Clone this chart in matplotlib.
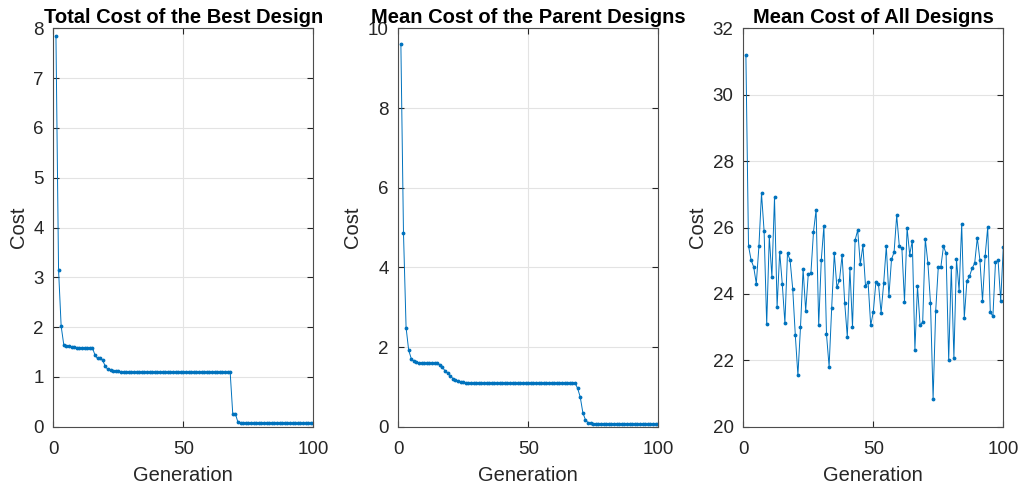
import matplotlib
matplotlib.use("Agg")
import matplotlib.pyplot as plt

plt.rcParams['font.family'] = ['Liberation Sans', 'DejaVu Sans']

generations = list(range(1, 101))

best_cost = [
    7.85, 3.15, 2.02, 1.65, 1.63, 1.62, 1.61, 1.61, 1.59, 1.59,
    1.59, 1.59, 1.59, 1.59, 1.59, 1.44, 1.37, 1.37, 1.33, 1.21,
    1.15, 1.13, 1.12, 1.12, 1.11, 1.10, 1.10, 1.10, 1.10, 1.10,
    1.10, 1.10, 1.10, 1.10, 1.10, 1.10, 1.10, 1.10, 1.10, 1.10,
    1.10, 1.10, 1.10, 1.10, 1.10, 1.10, 1.10, 1.10, 1.10, 1.10,
    1.10, 1.10, 1.10, 1.10, 1.10, 1.10, 1.10, 1.10, 1.10, 1.10,
    1.10, 1.10, 1.10, 1.10, 1.10, 1.10, 1.10, 1.10, 0.26, 0.26,
    0.09, 0.08, 0.08, 0.08, 0.08, 0.08, 0.08, 0.08, 0.08, 0.08,
    0.08, 0.08, 0.08, 0.08, 0.08, 0.08, 0.08, 0.08, 0.08, 0.08,
    0.07, 0.07, 0.07, 0.07, 0.07, 0.07, 0.07, 0.07, 0.07, 0.07,
]

parent_cost = [
    9.61, 4.87, 2.49, 1.92, 1.71, 1.64, 1.62, 1.61, 1.60, 1.59,
    1.59, 1.59, 1.59, 1.59, 1.59, 1.56, 1.49, 1.40, 1.34, 1.28,
    1.21, 1.17, 1.14, 1.12, 1.11, 1.10, 1.10, 1.10, 1.10, 1.10,
    1.10, 1.10, 1.10, 1.10, 1.10, 1.10, 1.10, 1.10, 1.10, 1.10,
    1.10, 1.10, 1.10, 1.10, 1.10, 1.10, 1.10, 1.10, 1.10, 1.10,
    1.10, 1.10, 1.10, 1.10, 1.10, 1.10, 1.10, 1.10, 1.10, 1.10,
    1.10, 1.10, 1.10, 1.10, 1.10, 1.10, 1.10, 1.10, 0.96, 0.74,
    0.35, 0.17, 0.10, 0.085, 0.08, 0.08, 0.08, 0.08, 0.08, 0.08,
    0.08, 0.08, 0.08, 0.08, 0.08, 0.08, 0.08, 0.08, 0.08, 0.08,
    0.07, 0.07, 0.07, 0.07, 0.07, 0.07, 0.07, 0.07, 0.07, 0.07,
]

all_cost = [
    31.19, 25.45, 25.02, 24.81, 24.31, 25.43, 27.03, 25.89, 23.08, 25.73,
    24.51, 26.91, 23.61, 25.26, 24.29, 23.12, 25.23, 25.01, 24.16, 22.76,
    21.55, 23.00, 24.75, 23.49, 24.61, 24.62, 25.87, 26.54, 23.06, 25.03,
    26.05, 22.78, 21.81, 23.59, 25.22, 24.20, 24.42, 25.17, 23.73, 22.71,
    24.77, 23.00, 25.62, 25.92, 24.89, 25.46, 24.24, 24.35, 23.05, 23.46,
    24.36, 24.29, 23.43, 24.33, 25.44, 23.93, 25.04, 25.26, 26.37, 25.44,
    25.37, 23.77, 25.99, 25.18, 25.60, 22.32, 24.23, 23.05, 23.16, 25.66,
    24.93, 23.72, 20.84, 23.49, 24.82, 24.82, 25.44, 25.22, 22.00, 24.80,
    22.08, 25.04, 24.09, 26.10, 23.28, 24.39, 24.53, 24.77, 24.93, 25.69,
    25.02, 23.79, 25.13, 26.01, 23.46, 23.32, 24.96, 25.01, 23.79, 25.41,
]

titles = ["Total Cost of the Best Design",
          "Mean Cost of the Parent Designs",
          "Mean Cost of All Designs"]
series = [best_cost, parent_cost, all_cost]
y_limits = [(0, 8), (0, 10), (20, 32)]
y_steps = [1, 2, 2]
x_ticks = [0, 50, 100]

line_color = "#0072BD"
text_color = "#262626"

fig = plt.figure(figsize=(10.22, 4.87), dpi=100)

lefts = [0.0522, 0.3897, 0.7273]

for i in range(3):
    ax = fig.add_axes([lefts[i], 0.1238, 0.2544, 0.818])

    ax.plot(generations, series[i], color=line_color, linewidth=0.7,
            marker=".", markersize=3.5)

    lo, hi = y_limits[i]
    ax.set_xlim(0, 100)
    ax.set_ylim(lo, hi)
    ax.set_xticks(x_ticks)
    ax.set_yticks(list(range(lo, hi + 1, y_steps[i])))

    ax.grid(True, color="#e3e3e3", linewidth=0.8)
    ax.set_axisbelow(True)

    ax.tick_params(direction="in", length=4, width=0.8, colors=text_color,
                   labelsize=13.5, top=True, right=True)
    ax.tick_params(axis="y", pad=7)
    ax.tick_params(axis="x", pad=10)
    for spine in ax.spines.values():
        spine.set_color("#4d4d4d")
        spine.set_linewidth(0.8)

    ax.set_title(titles[i], fontsize=14.5, fontweight="bold", color="black", pad=4)
    ax.set_xlabel("Generation", fontsize=14.5, color=text_color, labelpad=6)
    ax.set_ylabel("Cost", fontsize=14.5, color=text_color, labelpad=4)

fig.savefig("out.png", dpi=100)
plt.close(fig)
